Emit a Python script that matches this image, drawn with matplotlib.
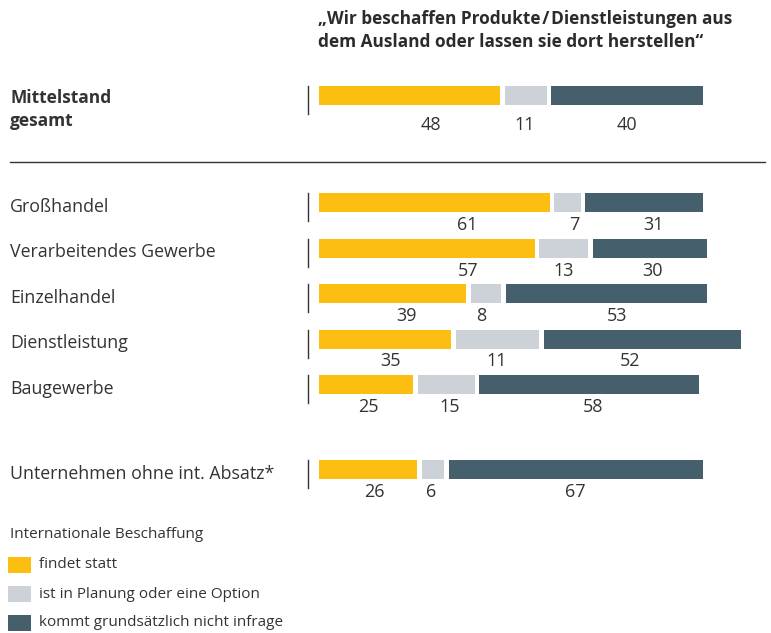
import matplotlib
matplotlib.use("Agg")
import matplotlib.pyplot as plt
from matplotlib.patches import Rectangle
from matplotlib.lines import Line2D

plt.rcParams['font.family'] = ['Open Sans', 'DejaVu Sans']

# ---- data ----
categories = ["Mittelstand\ngesamt", "Großhandel", "Verarbeitendes Gewerbe", "Einzelhandel",
              "Dienstleistung", "Baugewerbe", "Unternehmen ohne int. Absatz*"]
findet_statt = [48, 61, 57, 39, 35, 25, 26]
in_planung = [11, 7, 13, 8, 11, 15, 6]
# width of the grey segment as drawn in the reference (Dienstleistung drawn wider than its label)
in_planung_drawn = [11, 7, 13, 8, 22, 15, 6]
nicht_infrage = [40, 31, 30, 53, 52, 58, 67]
legend_title = "Internationale Beschaffung"
legend_labels = ["findet statt", "ist in Planung oder eine Option", "kommt grundsätzlich nicht infrage"]
title = "„Wir beschaffen Produkte\u200a/\u200aDienstleistungen aus\ndem Ausland oder lassen sie dort herstellen“"

colors = ["#FDBE12", "#CDD2D9", "#45606C"]
text_color = "#333333"

# layout: horizontal nudges (px) of value labels relative to segment centres
label_nudge_px = [[21.5, -1.5, 0], [33.5, 7, 10], [41.5, 0, 3], [14, -5, 10.5],
                  [5.5, -0.5, -12], [2.5, 3, 4], [6.5, -2, 0]]

W, H = 771, 633
fig = plt.figure(figsize=(W / 100, H / 100), dpi=100)

px_per_unit = 3.79
x0_px = 318.5
gap = 4.5 / px_per_unit

ax = fig.add_axes([x0_px / W, 0, (W - x0_px) / W, 1])
ax.set_xlim(0, (W - x0_px) / px_per_unit)
ax.set_ylim(H, 0)
ax.axis("off")

bar_tops = [86, 193, 238.5, 284, 329.5, 375, 460]
bar_h = 19
label_offsets = [20.5, 13, 13, 13, 13, 13, 13]

for i, cat in enumerate(categories):
    top = bar_tops[i]
    cy = top + bar_h / 2
    widths = [findet_statt[i], in_planung_drawn[i], nicht_infrage[i]]
    labels = [findet_statt[i], in_planung[i], nicht_infrage[i]]
    left = 0
    for k, (w, lab, c) in enumerate(zip(widths, labels, colors)):
        ax.barh(cy, w, left=left, height=bar_h, color=c, linewidth=0)
        ax.text(left + w / 2 + label_nudge_px[i][k] / px_per_unit, top + bar_h + label_offsets[i],
                str(lab), ha="center", va="center", fontsize=13, color=text_color)
        left += w + gap
    # vertical tick line
    ax.plot([(308 - x0_px) / px_per_unit] * 2, [top, top + bar_h + 9], color="#333333",
            linewidth=1.0, clip_on=False)
    # category label
    if i == 0:
        fig.text(10 / W, 1 - 98 / H, "Mittelstand", fontsize=12.5, fontweight="bold",
                 color=text_color, va="center", ha="left")
        fig.text(10 / W, 1 - 121 / H, "gesamt", fontsize=12.5, fontweight="bold",
                 color=text_color, va="center", ha="left")
    else:
        fig.text(10 / W, 1 - (cy + 4.5) / H, cat, fontsize=12.75, color=text_color,
                 va="center", ha="left")

# separator
fig.add_artist(Line2D([10 / W, 765 / W], [1 - 162 / H, 1 - 162 / H], color="#333333", linewidth=1.0))

# title
fig.text(318 / W, 1 - 30.5 / H, title, fontsize=12.4, fontweight="bold", color="#2b2b2b",
         va="center", ha="left", linespacing=1.3)

# legend
fig.text(10 / W, 1 - 535 / H, legend_title, fontsize=11, color=text_color, va="center", ha="left")
for j, (lab, c) in enumerate(zip(legend_labels, colors)):
    cy = 565 + j * 29
    fig.add_artist(Rectangle((8 / W, 1 - (cy + 8) / H), 23 / W, 16 / H, color=c, linewidth=0))
    fig.text(39 / W, 1 - cy / H, lab, fontsize=11, color=text_color, va="center", ha="left")

fig.savefig("out.png", dpi=100)
